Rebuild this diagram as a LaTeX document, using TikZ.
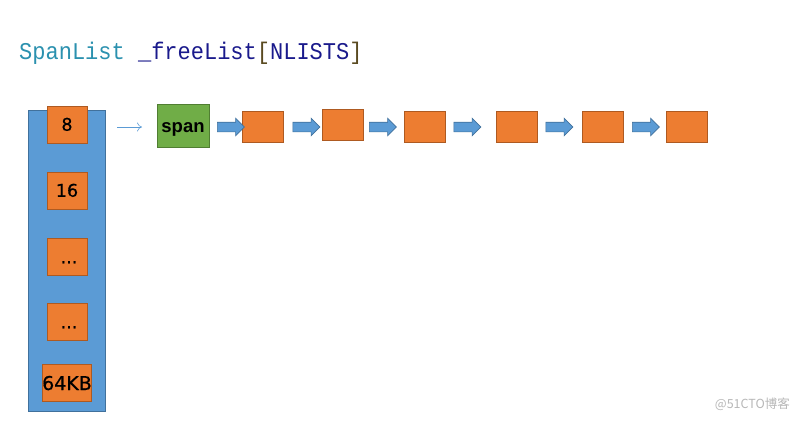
\documentclass[tikz,border=0pt]{standalone}
\usepackage{graphicx}
\usepackage{fontspec}
\setmainfont{Liberation Sans}
\newfontfamily\monofnt{Liberation Mono}
\newfontfamily\labfnt[FakeBold=0.6]{DejaVu Sans}
\newfontfamily\cjkfnt{Noto Sans CJK SC}
\usetikzlibrary{shapes.arrows,arrows.meta}
\definecolor{blu}{HTML}{5B9BD5}
\definecolor{bluedge}{HTML}{41719C}
\definecolor{org}{HTML}{ED7D31}
\definecolor{orgedge}{HTML}{AE5A21}
\definecolor{grn}{HTML}{70AD47}
\definecolor{grnedge}{HTML}{507E32}
\definecolor{teal}{HTML}{2B91AF}
\definecolor{navy}{HTML}{1A1A8C}
\definecolor{brk}{HTML}{5A4A20}
\tikzset{
  colbox/.style={draw=orgedge, fill=org, line width=0.8pt, minimum width=40pt, minimum height=37pt, inner sep=0pt, text height=12.5pt, text depth=0pt, font=\labfnt\fontsize{17.5}{17.5}\selectfont},
  chainbox/.style={draw=orgedge, fill=org, line width=0.8pt, minimum width=41pt, minimum height=31pt, inner sep=0pt},
  spanbox/.style={draw=grnedge, fill=grn, line width=0.8pt, minimum width=52pt, minimum height=43pt, inner sep=0pt, text height=13pt, text depth=0pt, font=\bfseries\fontsize{18.5}{18.5}\selectfont},
  blockarrow/.style={single arrow, draw=bluedge, fill=blu, line width=0.6pt, minimum height=27pt, inner xsep=0pt, inner ysep=4.5pt, single arrow head extend=4pt, single arrow head indent=0pt}
}
\begin{document}
\begin{tikzpicture}[x=1pt,y=-1pt]
\useasboundingbox[fill=white] (0,0) rectangle (799,421);
% title
\node[anchor=base west, inner sep=0pt, font=\monofnt\fontsize{24}{24}\selectfont] (title) at (19,59)
  {\scalebox{0.917}[1]{\textcolor{teal}{SpanList} \textcolor{navy}{\_freeList}\textcolor{brk}{[}\textcolor{navy}{NLISTS}\textcolor{brk}{]}}};
% column
\node[draw=bluedge, fill=blu, line width=0.8pt, minimum width=77pt, minimum height=301pt, inner sep=0pt] (col) at (66.5,260.5) {};
\node[colbox] (c1) at (67,124.5) {8};
\node[colbox] (c2) at (67,190.5) {16};
\node[colbox] (c3) at (67,257) {\hspace{4pt}...};
\node[colbox] (c4) at (67,322) {\hspace{4pt}...};
\node[colbox, text height=14pt, font=\labfnt\fontsize{19}{19}\selectfont] (c5) at (67,383) {64KB};
% span
\node[spanbox] (span) at (183,125.5) {span};
\coordinate (ts) at (117,127);
\coordinate (te) at (142,127);
\draw[-{To[length=5pt,width=9pt]}, draw=blu, line width=0.6pt] (ts) -- (te);
% chain
\node[chainbox] (b1) at (262.5,126.5) {};
\node[chainbox] (b2) at (343,125) {};
\node[chainbox] (b3) at (424.5,126.5) {};
\node[chainbox] (b4) at (516.5,126.5) {};
\node[chainbox] (b5) at (603,126.5) {};
\node[chainbox] (b6) at (687,126.5) {};
\node[blockarrow] (a1) at (228.5,127) {};
\node[blockarrow] (a2) at (304,127) {};
\node[blockarrow] (a3) at (380.5,127) {};
\node[blockarrow] (a4) at (465,127) {};
\node[blockarrow] (a5) at (557,127) {};
\node[blockarrow] (a6) at (643.5,127) {};
% watermark
\node[anchor=east, inner sep=0pt, text=black!28, font=\cjkfnt\fontsize{12.5}{12.5}\selectfont] (wm) at (790,404) {@51CTO博客};
\end{tikzpicture}
\end{document}
